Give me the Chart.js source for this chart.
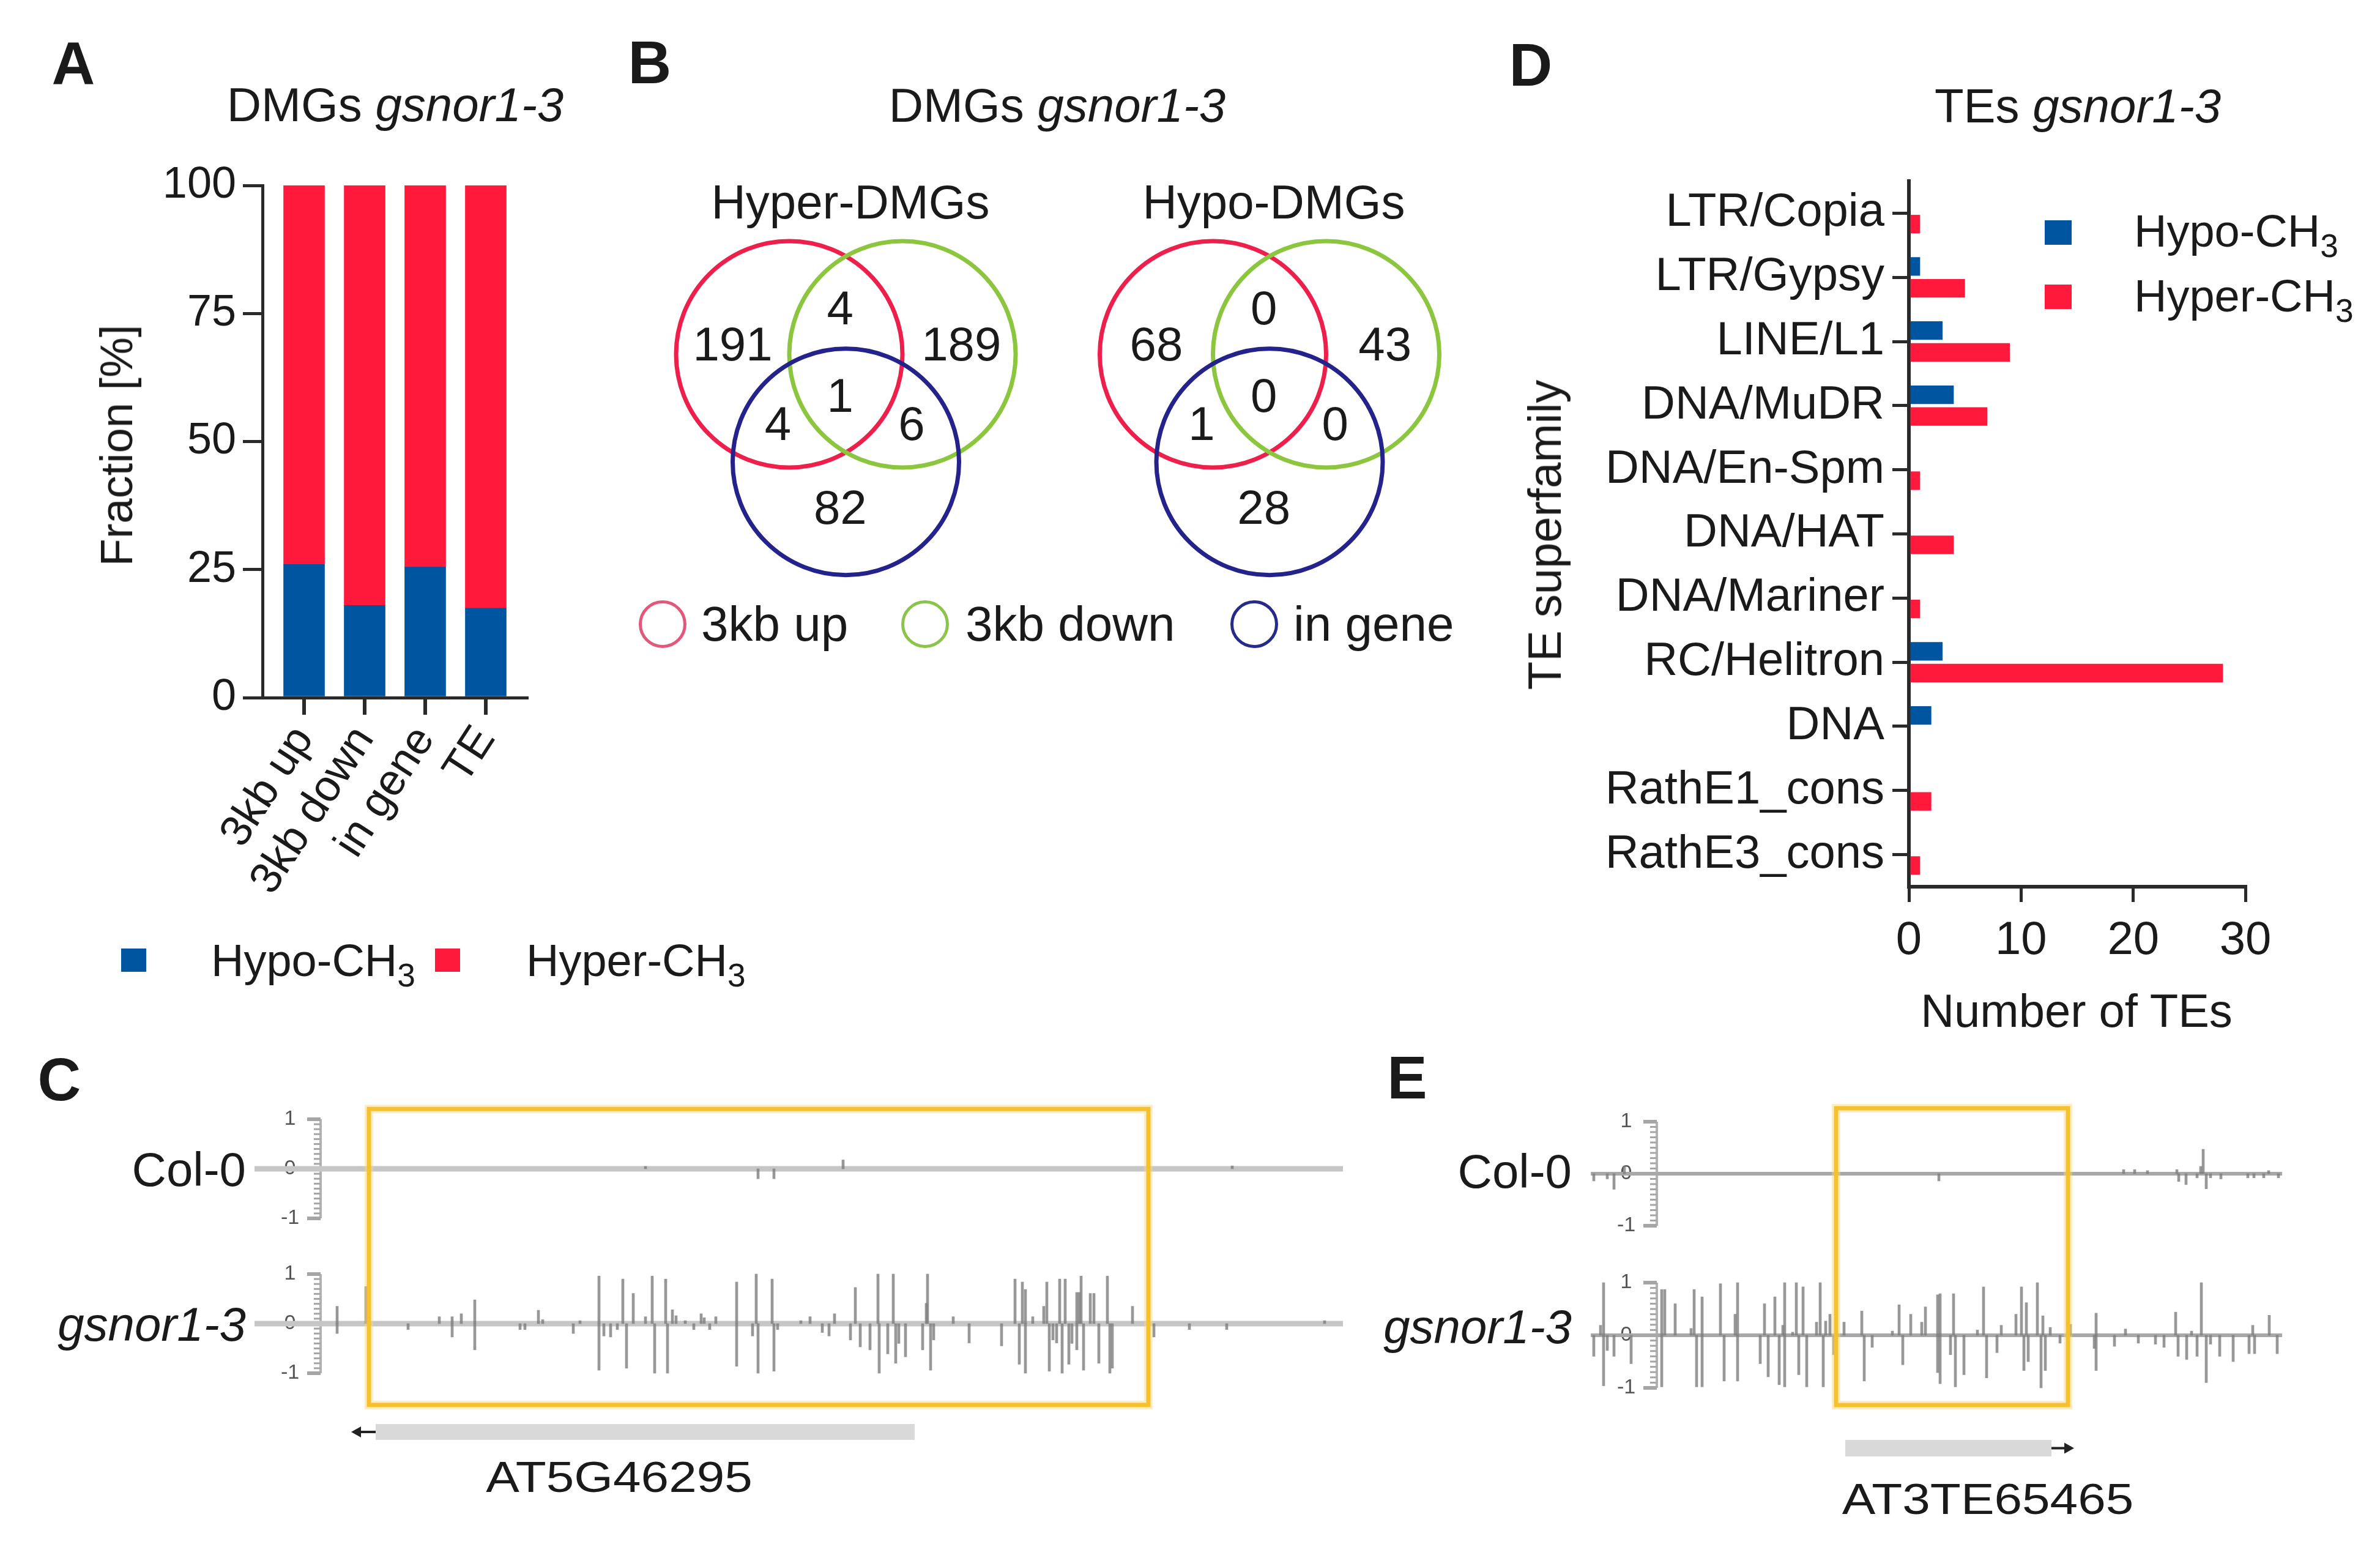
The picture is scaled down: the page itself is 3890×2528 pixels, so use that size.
<!DOCTYPE html>
<html>
<head>
<meta charset="utf-8">
<script src="https://cdn.jsdelivr.net/npm/chart.js@4.4.1/dist/chart.umd.min.js"></script>
<style>
  html, body { margin:0; padding:0; background:#fff; }
  #page { position:relative; width:3890px; height:2528px; overflow:hidden;
          font-family:'Liberation Sans', Arial, sans-serif; color:#1a1a1a; }
  canvas { position:absolute; }
  .t { position:absolute; white-space:nowrap; line-height:1; }
  .c { transform:translate(-50%,-50%); }
  .l { transform:translate(0,-50%); }
  .r { transform:translate(-100%,-50%); }
  .lab { font-weight:bold; font-size:98px; }
  .sub { font-size:0.72em; position:relative; top:0.32em; }
  .sq { position:absolute; }
  .ring { position:absolute; border-radius:50%; box-sizing:border-box; width:78px; height:78px; }
</style>
</head>
<body>
<div id="page">
  <canvas id="chartA" width="1000" height="1500" style="left:0;top:0"></canvas>
  <canvas id="chartB" width="1450" height="1100" style="left:1000px;top:0"></canvas>
  <canvas id="chartD" width="1440" height="1750" style="left:2450px;top:0"></canvas>
  <canvas id="chartC" width="2250" height="728" style="left:0;top:1800px"></canvas>
  <canvas id="chartE" width="1640" height="728" style="left:2250px;top:1800px"></canvas>

  <!-- A -->
  <div class="t c lab" style="left:120px;top:103px">A</div>
  <div class="t c" style="left:646px;top:171px;font-size:78px">DMGs <i>gsnor1-3</i></div>
  <div class="t" style="left:191px;top:728px;font-size:74px;transform:translate(-50%,-50%) rotate(-90deg)">Fraction [%]</div>
  <div class="sq" style="left:198px;top:1550px;width:41px;height:38px;background:#0055a0"></div>
  <div class="t l" style="left:345px;top:1570px;font-size:74px">Hypo-CH<span class="sub">3</span></div>
  <div class="sq" style="left:711px;top:1550px;width:41px;height:38px;background:#ff1a3c"></div>
  <div class="t l" style="left:860px;top:1570px;font-size:74px">Hyper-CH<span class="sub">3</span></div>

  <!-- B -->
  <div class="t c lab" style="left:1062px;top:102px">B</div>
  <div class="t c" style="left:1728px;top:172px;font-size:78px">DMGs <i>gsnor1-3</i></div>
  <div class="t c" style="left:1390px;top:330px;font-size:78px">Hyper-DMGs</div>
  <div class="t c" style="left:2082px;top:330px;font-size:78px">Hypo-DMGs</div>
  <div class="ring" style="left:1044px;top:981px;border:5px solid #e2587a"></div>
  <div class="t l" style="left:1146px;top:1020px;font-size:80px">3kb up</div>
  <div class="ring" style="left:1473px;top:981px;border:5px solid #8cc34a"></div>
  <div class="t l" style="left:1578px;top:1020px;font-size:80px">3kb down</div>
  <div class="ring" style="left:2011px;top:981px;border:5px solid #262a8a"></div>
  <div class="t l" style="left:2114px;top:1020px;font-size:80px">in gene</div>

  <!-- D -->
  <div class="t c lab" style="left:2502px;top:106px">D</div>
  <div class="t c" style="left:3396px;top:173px;font-size:78px">TEs <i>gsnor1-3</i></div>
  <div class="t" style="left:2525px;top:874px;font-size:76px;transform:translate(-50%,-50%) rotate(-90deg)">TE superfamily</div>
  <div class="t c" style="left:3394px;top:1652px;font-size:76px">Number of TEs</div>
  <div class="sq" style="left:3342px;top:360px;width:44px;height:40px;background:#0055a0"></div>
  <div class="t l" style="left:3488px;top:378px;font-size:74px">Hypo-CH<span class="sub">3</span></div>
  <div class="sq" style="left:3342px;top:465px;width:44px;height:40px;background:#ff1a3c"></div>
  <div class="t l" style="left:3488px;top:484px;font-size:74px">Hyper-CH<span class="sub">3</span></div>

  <!-- C -->
  <div class="t c lab" style="left:97px;top:1764px">C</div>
  <div class="t r" style="left:402px;top:1911px;font-size:78px">Col-0</div>
  <div class="t r" style="left:402px;top:2164px;font-size:78px"><i>gsnor1-3</i></div>
  <div class="t" style="left:1012px;top:2414px;font-size:70px;transform:translate(-50%,-50%) scaleX(1.17)">AT5G46295</div>

  <!-- E -->
  <div class="t c lab" style="left:2300px;top:1761px">E</div>
  <div class="t r" style="left:2569px;top:1914px;font-size:78px">Col-0</div>
  <div class="t r" style="left:2569px;top:2168px;font-size:78px"><i>gsnor1-3</i></div>
  <div class="t" style="left:3249px;top:2450px;font-size:70px;transform:translate(-50%,-50%) scaleX(1.17)">AT3TE65465</div>
</div>

<script>
// ---- panel A : fraction of hypo / hyper DMGs
var aCategories = ['3kb up', '3kb down', 'in gene', 'TE'];
var aHypo  = [26, 18, 25.5, 17.5];
var aHyper = [74, 82, 74.5, 82.5];
var aTicks = [0, 25, 50, 75, 100];

// ---- panel B : venn counts (up only, down only, gene only, up+down, up+gene, down+gene, all three)
var vennRegions = ['3kb up', '3kb down', 'in gene', 'up+down', 'up+gene', 'down+gene', 'all'];
var hyperCounts = [191, 189, 82, 4, 4, 6, 1];
var hypoCounts  = [68, 43, 28, 0, 1, 0, 0];

// ---- panel D : TE superfamilies
var teFamilies = ['LTR/Copia', 'LTR/Gypsy', 'LINE/L1', 'DNA/MuDR', 'DNA/En-Spm', 'DNA/HAT',
                  'DNA/Mariner', 'RC/Helitron', 'DNA', 'RathE1_cons', 'RathE3_cons'];
var teHypo  = [0, 1, 3, 4, 0, 0, 0, 3, 2, 0, 0];
var teHyper = [1, 5, 9, 7, 1, 4, 1, 28, 0, 2, 1];
var teTicks = [0, 10, 20, 30];

// ---- panel C : methylation tracks around AT5G46295 (position in window, value -1..1)
var cCol0Pos = [639, 823, 849, 962, 1598];
var cCol0Val = [0.05, -0.2, -0.2, 0.18, 0.06];
var cGsnorPos = [135,135,182,251,302,323,323,338,360,360,434,442,464,471,521,532,563,563,571,582,593,602,608,619,639,650,654,672,675,683,689,704,718,730,735,744,754,788,788,814,820,823,846,849,855,893,908,928,939,948,974,982,990,1006,1019,1021,1035,1044,1048,1053,1064,1092,1098,1100,1105,1110,1142,1168,1221,1243,1250,1255,1260,1260,1272,1290,1295,1299,1305,1311,1316,1320,1325,1331,1336,1344,1344,1348,1351,1355,1366,1372,1380,1394,1398,1402,1435,1470,1528,1589,1749];
var cGsnorVal = [0.35,-0.2,0.75,-0.12,0.14,-0.27,0.14,0.2,0.48,-0.53,-0.12,-0.12,0.27,0.08,-0.2,0.06,0.96,-0.94,-0.25,-0.27,-0.12,0.9,-0.9,0.61,0.14,0.96,-1,0.9,-1,0.28,0.16,0.06,-0.12,0.2,0.12,-0.12,0.14,0.84,-0.86,-0.25,1,-1,0.9,-0.96,-0.12,0.06,0.14,-0.18,-0.25,0.2,-0.33,0.73,-0.47,-0.53,1,-1,-0.61,1,-0.8,-0.4,-0.67,-0.53,0.41,1,-0.94,-0.33,0.14,-0.39,-0.45,0.9,-0.82,0.84,0.69,-1,0.14,0.35,0.84,-0.96,-0.33,-0.39,0.9,-1,0.9,-0.82,-0.4,-0.53,0.63,0.63,0.96,-0.94,0.61,0.61,-0.8,0.96,-1,-0.9,0.35,-0.27,-0.12,-0.12,0.06];

// ---- panel E : methylation tracks around AT3TE65465
var eCol0Pos = [5,27,38,55,569,871,889,910,958,961,973,991,997,1001,1006,1013,1030,1074,1084,1100,1108,1124];
var eCol0Val = [-0.14,-0.1,-0.3,0.15,-0.14,0.08,0.08,0.06,0.08,-0.15,-0.21,-0.08,0.14,0.47,-0.29,-0.08,-0.1,-0.08,-0.08,-0.08,0.06,-0.08];
var eGsnorPos = [5,16,21,21,27,38,66,116,116,121,138,164,169,173,182,182,212,218,236,240,240,277,284,290,301,308,314,317,317,330,336,340,347,353,369,375,380,384,391,397,414,443,447,460,493,504,510,523,541,547,567,567,571,571,588,593,596,610,632,642,647,664,671,695,704,708,712,715,730,736,739,743,751,767,784,823,826,826,856,874,895,923,937,956,960,974,982,991,998,1006,1013,1028,1050,1076,1082,1085,1109,1122];
var eGsnorVal = [-0.4,0.19,1,-0.96,-0.29,-0.4,-0.54,0.87,-0.98,0.87,0.6,0.13,0.87,-0.98,0.73,-0.98,0.98,-0.87,0.4,1,-0.87,-0.54,0.6,-0.79,0.73,-0.94,0.19,1,-0.98,0.06,1,-0.75,0.92,-0.98,0.25,1,-0.98,0.27,0.4,-0.37,0.25,0.46,-0.87,-0.23,0.08,0.58,-0.56,0.4,0.25,0.54,0.77,-0.71,0.79,-0.92,-0.37,0.79,-0.98,-0.75,0.1,0.92,-0.81,-0.33,0.19,0.4,0.92,-0.67,0.62,-0.5,1,-1,0.37,-0.67,0.15,-0.15,0.21,-0.25,0.42,-0.67,-0.21,0.12,-0.15,-0.17,-0.23,0.44,-0.4,-0.46,0.08,-0.4,1,-0.9,-0.17,-0.4,-0.5,-0.35,0.19,-0.35,0.38,-0.35];

var BLUE = '#0055a0';
var RED = '#ff1a3c';
var INK = '#1a1a1a';
var AXIS = '#2a2a2a';

Chart.defaults.font.family = "'Liberation Sans', Arial, sans-serif";
Chart.defaults.color = INK;

var base = {
  responsive: false, animation: false, devicePixelRatio: 1, events: [],
  plugins: { legend: { display: false }, tooltip: { enabled: false }, title: { display: false } }
};
function opts(extra) { return Object.assign({}, base, extra); }

// ---------- A
new Chart(document.getElementById('chartA'), {
  type: 'bar',
  data: {
    datasets: [
      { label: 'Hypo-CH3', data: aHypo.map(function (v, i) { return { x: i, y: v }; }), backgroundColor: BLUE, barThickness: 67 },
      { label: 'Hyper-CH3', data: aHyper.map(function (v, i) { return { x: i, y: v }; }), backgroundColor: RED, barThickness: 67 }
    ]
  },
  options: opts({
    layout: { padding: { left: 0, top: 303, right: 139, bottom: 0 } },
    scales: {
      x: {
        type: 'linear', stacked: true, offset: false, min: -0.687, max: 3.677,
        afterFit: function (a) { a.height = 360; },
        afterBuildTicks: function (a) { a.ticks = aCategories.map(function (c, i) { return { value: i }; }); },
        grid: { drawOnChartArea: false, offset: false, tickLength: 28, color: AXIS, lineWidth: 6 },
        border: { color: AXIS, width: 5 },
        ticks: { callback: function (v) { return aCategories[v]; }, minRotation: 57, maxRotation: 57,
                 autoSkip: false, font: { size: 72 }, color: INK, padding: 4 }
      },
      y: {
        stacked: true, min: 0, max: 100,
        afterFit: function (a) { a.width = 429; },
        afterBuildTicks: function (a) { a.ticks = aTicks.map(function (v) { return { value: v }; }); },
        grid: { drawOnChartArea: false, tickLength: 32, color: AXIS, lineWidth: 5 },
        border: { color: AXIS, width: 5 },
        ticks: { font: { size: 72 }, padding: 11, color: INK }
      }
    }
  })
});

// ---------- B (venn, unit = circle radius)
var vennCentres = [{ x: -0.5, y: 0 }, { x: 0.5, y: 0 }, { x: 0, y: -0.95 }];
var vennColours = ['#ee1f4b', '#8cc63f', '#24238c'];
var vennAnchors = [{ x: -1.0, y: 0.06 }, { x: 1.02, y: 0.06 }, { x: -0.05, y: -1.38 },
                   { x: -0.05, y: 0.38 }, { x: -0.6, y: -0.64 }, { x: 0.58, y: -0.64 }, { x: -0.05, y: -0.39 }];
var hypoShift = 3.743;

function shifted(dx) { return vennCentres.map(function (p) { return { x: p.x + dx, y: p.y }; }); }
function unitRadius(ctx) {
  var s = ctx.chart.scales.x;
  return s.getPixelForValue(1) - s.getPixelForValue(0);
}

var vennText = {
  id: 'vennText',
  afterDatasetsDraw: function (chart) {
    var ctx = chart.ctx, sx = chart.scales.x, sy = chart.scales.y;
    ctx.save();
    ctx.font = "78px 'Liberation Sans', Arial, sans-serif";
    ctx.fillStyle = INK;
    ctx.textAlign = 'center';
    ctx.textBaseline = 'middle';
    [[hyperCounts, 0], [hypoCounts, hypoShift]].forEach(function (set) {
      set[0].forEach(function (n, i) {
        var a = vennAnchors[i];
        ctx.fillText(String(n), sx.getPixelForValue(a.x + set[1]), sy.getPixelForValue(a.y));
      });
    });
    ctx.restore();
  }
};

new Chart(document.getElementById('chartB'), {
  type: 'scatter',
  data: {
    datasets: [shifted(0), shifted(hypoShift)].map(function (pts, k) {
      return {
        label: k ? 'Hypo-DMGs' : 'Hyper-DMGs', data: pts,
        pointRadius: unitRadius, pointBorderWidth: 7, pointStyle: 'circle',
        pointBackgroundColor: 'rgba(0,0,0,0)', pointBorderColor: vennColours, clip: false
      };
    })
  },
  options: opts({
    layout: { padding: 0 },
    scales: {
      x: { type: 'linear', display: false, min: -2.0676, max: 5.770 },
      y: { type: 'linear', display: false, min: -2.8162, max: 3.1297 }
    }
  }),
  plugins: [vennText]
});

// ---------- D
new Chart(document.getElementById('chartD'), {
  type: 'bar',
  data: {
    labels: teFamilies,
    datasets: [
      { label: 'Hypo-CH3', data: teHypo, backgroundColor: BLUE, categoryPercentage: 0.68, barPercentage: 0.85 },
      { label: 'Hyper-CH3', data: teHyper, backgroundColor: RED, categoryPercentage: 0.68, barPercentage: 0.85 }
    ]
  },
  options: opts({
    indexAxis: 'y',
    layout: { padding: { left: 0, top: 296, right: 220, bottom: 181 } },
    scales: {
      y: {
        afterFit: function (a) { a.width = 670; },
        grid: { drawOnChartArea: false, offset: false, tickLength: 27, color: AXIS, lineWidth: 5 },
        border: { color: AXIS, width: 6 },
        ticks: { font: { size: 76 }, padding: 13, color: INK, autoSkip: false }
      },
      x: {
        min: 0, max: 30,
        afterFit: function (a) { a.height = 120; },
        afterBuildTicks: function (a) { a.ticks = teTicks.map(function (v) { return { value: v }; }); },
        grid: { drawOnChartArea: false, tickLength: 25, color: AXIS, lineWidth: 5 },
        border: { color: AXIS, width: 6 },
        ticks: { font: { size: 76 }, padding: 18, color: INK }
      }
    }
  })
});

// ---------- C / E genome tracks
function makeTrack(id, t) {
  var decor = {
    id: 'decor_' + id,
    beforeDatasetsDraw: function (chart) {
      var ctx = chart.ctx, sx = chart.scales.x;
      var x = sx.getPixelForValue(t.rulerPos);
      ctx.save();
      ['y1', 'y2'].forEach(function (ax) {
        var sy = chart.scales[ax];
        var top = sy.getPixelForValue(1), bot = sy.getPixelForValue(-1);
        ctx.strokeStyle = '#b3b3b3';
        ctx.lineWidth = 4;
        ctx.beginPath(); ctx.moveTo(x, top); ctx.lineTo(x, bot); ctx.stroke();
        ctx.strokeStyle = '#a5a5a5';
        for (var k = -10; k <= 10; k++) {
          var yy = sy.getPixelForValue(k / 10);
          var len = (k === 10 || k === -10) ? 22 : 11;
          ctx.lineWidth = (k === 10 || k === -10) ? 6 : 3;
          ctx.beginPath(); ctx.moveTo(x - len, yy); ctx.lineTo(x, yy); ctx.stroke();
        }
        ctx.fillStyle = '#555';
        ctx.font = "34px 'Liberation Sans', Arial, sans-serif";
        ctx.textAlign = 'center';
        ctx.textBaseline = 'middle';
        [1, 0, -1].forEach(function (v) { ctx.fillText(String(v), x - 50, sy.getPixelForValue(v)); });
      });
      ctx.restore();
    },
    afterDatasetsDraw: function (chart) {
      var ctx = chart.ctx, sx = chart.scales.x, sy = chart.scales.y2;
      ctx.save();
      // gene model
      var g0 = sx.getPixelForValue(t.gene[0]), g1 = sx.getPixelForValue(t.gene[1]);
      var gy0 = sy.getPixelForValue(t.geneY[0]), gy1 = sy.getPixelForValue(t.geneY[1]);
      ctx.fillStyle = '#d9d9d9';
      ctx.fillRect(g0, gy0, g1 - g0, gy1 - gy0);
      var ym = (gy0 + gy1) / 2;
      var a0 = sx.getPixelForValue(t.arrow[0]), a1 = sx.getPixelForValue(t.arrow[1]);
      var dir = a1 > a0 ? 1 : -1;
      ctx.strokeStyle = '#222'; ctx.fillStyle = '#222'; ctx.lineWidth = 4;
      ctx.beginPath(); ctx.moveTo(a0, ym); ctx.lineTo(a1 - dir * 8, ym); ctx.stroke();
      ctx.beginPath(); ctx.moveTo(a1, ym); ctx.lineTo(a1 - dir * 16, ym - 9); ctx.lineTo(a1 - dir * 16, ym + 9); ctx.closePath(); ctx.fill();
      // highlight box
      var b0 = sx.getPixelForValue(t.box[0]), b1 = sx.getPixelForValue(t.box[1]);
      var by0 = sy.getPixelForValue(t.boxY[0]), by1 = sy.getPixelForValue(t.boxY[1]);
      ctx.strokeStyle = 'rgba(252,214,120,0.45)'; ctx.lineWidth = 14;
      ctx.strokeRect(b0, by0, b1 - b0, by1 - by0);
      ctx.strokeStyle = '#f6c12e'; ctx.lineWidth = 7;
      ctx.strokeRect(b0, by0, b1 - b0, by1 - by0);
      ctx.restore();
    }
  };

  function pts(pos, val) { return pos.map(function (p, i) { return { x: p, y: val[i] }; }); }

  return new Chart(document.getElementById(id), {
    type: 'bar',
    data: {
      datasets: [
        { type: 'line', label: 'base1', data: [{ x: 0, y: 0 }, { x: t.xMax, y: 0 }], yAxisID: 'y1',
          borderColor: t.baseColour, borderWidth: t.baseWidth, pointRadius: 0, order: 5 },
        { type: 'line', label: 'base2', data: [{ x: 0, y: 0 }, { x: t.xMax, y: 0 }], yAxisID: 'y2',
          borderColor: t.baseColour, borderWidth: t.baseWidth, pointRadius: 0, order: 5 },
        { label: 'Col-0', data: pts(t.col0Pos, t.col0Val), yAxisID: 'y1', backgroundColor: 'rgba(125,125,125,0.8)',
          barThickness: 4, grouped: false, order: 1 },
        { label: 'gsnor1-3', data: pts(t.gsnorPos, t.gsnorVal), yAxisID: 'y2', backgroundColor: 'rgba(125,125,125,0.8)',
          barThickness: 4, grouped: false, order: 1 }
      ]
    },
    options: opts({
      layout: { padding: { left: t.padLeft, right: t.padRight, top: 0, bottom: 0 } },
      scales: {
        x: { type: 'linear', display: false, offset: false, grid: { offset: false }, min: 0, max: t.xMax },
        y1: { type: 'linear', display: false, min: t.y1[0], max: t.y1[1] },
        y2: { type: 'linear', display: false, min: t.y2[0], max: t.y2[1] }
      }
    }),
    plugins: [decor]
  });
}

makeTrack('chartC', {
  xMax: 1779, padLeft: 416, padRight: 55,
  y1: [-7.630, 1.358], y2: [-4.506, 4.481],
  col0Pos: cCol0Pos, col0Val: cCol0Val, gsnorPos: cGsnorPos, gsnorVal: cGsnorVal,
  baseColour: '#c6c6c6', baseWidth: 9, rulerPos: 108,
  box: [187, 1461], boxY: [4.33, -1.64],
  gene: [198, 1079], geneY: [-2.025, -2.346], arrow: [198, 158]
});

makeTrack('chartE', {
  xMax: 1130, padLeft: 350, padRight: 160,
  y1: [-7.176, 1.388], y2: [-4.023, 4.442],
  col0Pos: eCol0Pos, col0Val: eCol0Val, gsnorPos: eGsnorPos, gsnorVal: eGsnorVal,
  baseColour: '#a8a8a8', baseWidth: 6, rulerPos: 108,
  box: [401, 780], boxY: [4.314, -1.326],
  gene: [416, 753], geneY: [-1.988, -2.302], arrow: [753, 790]
});
</script>
</body>
</html>
